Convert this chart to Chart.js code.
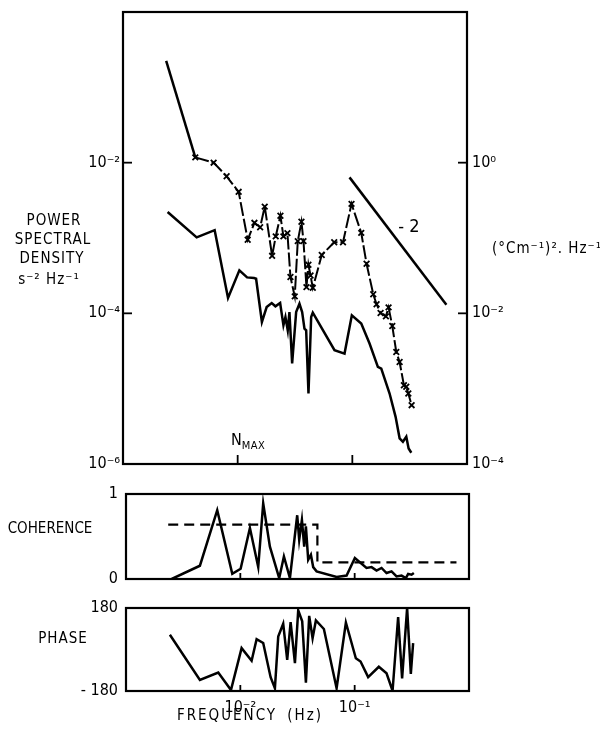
<!DOCTYPE html>
<html><head><meta charset="utf-8">
<script src="https://cdn.jsdelivr.net/npm/chart.js@4"></script>
<style>
body{margin:0;background:#fff;width:600px;height:740px;position:relative;overflow:hidden;font-family:"DejaVu Sans Condensed","DejaVu Sans",sans-serif;color:#000}
canvas{position:absolute;left:0}
.t{position:absolute;white-space:nowrap;font-size:15px;line-height:1}
.c{transform:translate(-50%,-50%)}
.l{transform:translate(0,-50%)}
.sp{letter-spacing:1px}
</style></head><body>
<canvas id="c1" width="600" height="480" style="top:0"></canvas>
<canvas id="c2" width="600" height="110" style="top:480px"></canvas>
<canvas id="c3" width="600" height="150" style="top:590px"></canvas>

<div class="t c sp" style="left:54px;top:220px">POWER</div>
<div class="t c sp" style="left:53px;top:239px">SPECTRAL</div>
<div class="t c sp" style="left:52px;top:258px">DENSITY</div>
<div class="t c sp" style="left:49px;top:279px">s⁻² Hz⁻¹</div>
<div class="t l sp" style="left:492px;top:248px">(°Cm⁻¹)². Hz⁻¹</div>
<div class="t c" style="left:409px;top:226px;font-size:18px">- 2</div>
<div class="t l" style="left:231px;top:440px;font-size:16px">N<span style="font-size:11px;position:relative;top:4px;letter-spacing:0.5px">MAX</span></div>
<div class="t c" style="left:50px;top:528px">COHERENCE</div>
<div class="t c sp" style="left:63px;top:638px">PHASE</div>
<div class="t c" style="left:250px;top:715px;letter-spacing:2px;word-spacing:4px">FREQUENCY (Hz)</div>

<script>
// ---- tick definitions ----
const psdLeftTicks = [1e-2, 1e-4, 1e-6];
const psdLeftLabels = ['10⁻²', '10⁻⁴', '10⁻⁶'];
const psdRightTicks = [1e0, 1e-2, 1e-4];
const psdRightLabels = ['10⁰', '10⁻²', '10⁻⁴'];
const freqTicks = [0.01, 0.1];
const freqLabels = ['10⁻²', '10⁻¹'];
const cohTicks = [1, 0];
const cohLabels = ['1', '0'];
const phaseTicks = [180, -180];
const phaseLabels = ['180', '- 180'];

// ---- temperature-gradient spectrum (x markers), right-axis units ----
const gradFreq = [0.00238,0.00427,0.00617,0.00801,0.0102,0.01223,0.0140,0.0157,0.01722,0.01997,0.02147,0.0236,0.02506,0.02716,0.02886,0.03147,0.03343,0.0360,0.0375,0.0398,0.0414,0.0432,0.0452,0.0541,0.0695,0.0829,0.0984,0.1196,0.1331,0.1522,0.1627,0.1763,0.1962,0.2070,0.2231,0.2417,0.2584,0.2817,0.2955,0.3078,0.3289];
const gradPsd = [22.4,1.175,1.0,0.659,0.41,0.0946,0.159,0.139,0.261,0.058,0.105,0.197,0.105,0.116,0.0303,0.0168,0.0908,0.164,0.0908,0.0223,0.0442,0.0318,0.0218,0.0594,0.0879,0.0879,0.284,0.117,0.0455,0.0179,0.0132,0.0101,0.00912,0.0120,0.00679,0.00307,0.00226,0.00111,0.00106,0.000863,0.000604];

// ---- velocity-shear spectrum (solid line), left-axis units ----
const velFreq = [0.00245,0.00439,0.00630,0.00824,0.01035,0.01208,0.0139,0.01448,0.01627,0.0179,0.01981,0.02135,0.02346,0.02507,0.0261,0.02733,0.02828,0.02986,0.03236,0.03459,0.0365,0.03824,0.03957,0.04145,0.04375,0.0452,0.0699,0.0855,0.099,0.1196,0.1413,0.167,0.1788,0.2113,0.2384,0.2584,0.2761,0.2955,0.3096,0.3269];
const velPsd = [0.00221,0.00102,0.00127,0.000160,0.000372,0.000300,0.000294,0.000288,0.0000768,0.000121,0.000137,0.000124,0.000137,0.0000693,0.0000893,0.0000596,0.000104,0.0000216,0.000104,0.000134,0.000104,0.0000627,0.0000596,0.00000863,0.0000893,0.000102,0.0000324,0.0000292,0.0000942,0.0000731,0.0000397,0.0000195,0.0000185,0.00000863,0.00000423,0.00000219,0.00000197,0.0000023,0.00000161,0.00000141];

// ---- -2 slope reference line ----
const slopeFreq = [0.0945, 0.661];
const slopePsd = [0.00638, 0.00013];

// ---- coherence ----
const cohFreq = [0.00251,0.00443,0.00628,0.0085,0.01006,0.01213,0.01434,0.01585,0.01814,0.02188,0.02405,0.02715,0.03144,0.03273,0.03456,0.03620,0.03745,0.03923,0.04142,0.04338,0.04645,0.0695,0.0850,0.1004,0.127,0.1405,0.1554,0.1718,0.19,0.2102,0.2325,0.257,0.2804,0.2936,0.3144,0.3293];
const cohVal = [0,0.156,0.81,0.06,0.12,0.60,0.14,0.89,0.38,0.01,0.265,0.01,0.75,0.46,0.695,0.38,0.62,0.226,0.285,0.14,0.09,0.023,0.04,0.246,0.13,0.14,0.10,0.13,0.07,0.09,0.03,0.04,0.01,0.06,0.05,0.07];
const sigFreq = [0.00234,0.0472,0.0472,0.777];
const sigVal = [0.64,0.64,0.195,0.195];

// ---- phase ----
const phaseFreq = [0.00242,0.00443,0.00641,0.00828,0.01026,0.01255,0.01388,0.01585,0.0184,0.02006,0.02145,0.02371,0.0257,0.02753,0.03003,0.03208,0.03476,0.03745,0.04002,0.04285,0.04579,0.0538,0.0695,0.0838,0.1024,0.1126,0.1312,0.1627,0.19,0.2145,0.240,0.260,0.2876,0.3099,0.3246];
const phaseVal = [64,-132,-100,-176,6,-49,45,28,-120,-168,56,112,-45,119,-59,170,122,-144,146,49,126,89,-168,117,-38,-52,-120,-75,-103,-179,141,-125,180,-106,28];

const pts = (xs, ys) => xs.map((x, i) => ({x, y: ys[i]}));
const FONT = {family: '"DejaVu Sans Condensed","DejaVu Sans",sans-serif', size: 16};

const frame = {
  id: 'frame',
  afterDraw(chart, args, o) {
    const {ctx, chartArea: a, scales} = chart;
    ctx.save();
    ctx.strokeStyle = '#000';
    ctx.lineWidth = 2.2;
    ctx.strokeRect(a.left, a.top, a.right - a.left, a.bottom - a.top);
    ctx.lineWidth = 1.8;
    const L = o.len || 8;
    (o.xTicks || []).forEach(v => {
      const p = scales.x.getPixelForValue(v);
      ctx.beginPath(); ctx.moveTo(p, a.bottom); ctx.lineTo(p, a.bottom - L); ctx.stroke();
    });
    (o.yTicks || []).forEach(v => {
      const p = scales.y.getPixelForValue(v);
      ctx.beginPath(); ctx.moveTo(a.left, p); ctx.lineTo(a.left + L, p); ctx.stroke();
    });
    (o.y2Ticks || []).forEach(v => {
      const p = scales.y2.getPixelForValue(v);
      ctx.beginPath(); ctx.moveTo(a.right, p); ctx.lineTo(a.right - L, p); ctx.stroke();
    });
    ctx.restore();
  }
};

function noPad(s) { s.paddingTop = 0; s.paddingBottom = 0; s.paddingLeft = 0; s.paddingRight = 0; }

function yAxis(min, max, type, ticks, labels, width, pos, pad) {
  return {
    type, min, max, position: pos || 'left',
    grid: {display: false, drawTicks: false},
    border: {display: false},
    afterBuildTicks: s => { s.ticks = ticks.map(v => ({value: v})); },
    afterFit: s => { s.width = width; noPad(s); },
    ticks: {
      autoSkip: false, color: '#000', font: FONT, padding: pad || 4,
      callback: (v, i) => labels[i]
    }
  };
}
function xAxis(height, showLabels) {
  return {
    type: 'logarithmic', min: 0.001, max: 1,
    grid: {display: false, drawTicks: false},
    border: {display: false},
    afterBuildTicks: s => { s.ticks = freqTicks.map(v => ({value: v})); },
    afterFit: s => { s.height = height; noPad(s); },
    ticks: {
      display: showLabels, autoSkip: false, maxRotation: 0, color: '#000', font: FONT, padding: 7,
      callback: (v, i) => freqLabels[i]
    }
  };
}
const base = {
  responsive: false, animation: false, devicePixelRatio: 1,
  plugins: {legend: {display: false}, tooltip: {enabled: false}},
  elements: {line: {tension: 0, borderColor: '#000', borderWidth: 2.5}, point: {radius: 0}}
};

new Chart(document.getElementById('c1'), {
  type: 'line',
  data: {datasets: [
    {data: pts(velFreq, velPsd), yAxisID: 'y', borderColor: '#000', borderWidth: 2.5, pointRadius: 0},
    {data: pts(gradFreq, gradPsd), yAxisID: 'y2', borderColor: '#000', borderWidth: 2,
     pointStyle: 'crossRot', pointRadius: c => c.dataIndex === 0 ? 0 : 4, pointBorderWidth: 1.8,
     pointBorderColor: '#000',
     segment: {borderDash: c => c.p0DataIndex === 0 ? [] : [14, 3], borderWidth: c => c.p0DataIndex === 0 ? 2.5 : 2}},
    {data: pts(slopeFreq, slopePsd), yAxisID: 'y', borderColor: '#000', borderWidth: 2.5, pointRadius: 0}
  ]},
  options: Object.assign({}, base, {
    layout: {padding: {top: 12, left: 0, right: 0, bottom: 0}},
    scales: {
      x: xAxis(16, false),
      y: yAxis(1e-6, 1, 'logarithmic', psdLeftTicks, psdLeftLabels, 123, 'left', 3),
      y2: yAxis(1e-4, 1e2, 'logarithmic', psdRightTicks, psdRightLabels, 133, 'right', 5)
    },
    plugins: Object.assign({}, base.plugins, {frame: {xTicks: freqTicks, yTicks: [1e-2, 1e-4], y2Ticks: [1e0, 1e-2], len: 9}})
  }),
  plugins: [frame]
});

new Chart(document.getElementById('c2'), {
  type: 'line',
  data: {datasets: [
    {data: pts(cohFreq, cohVal), borderColor: '#000', borderWidth: 2.5, pointRadius: 0},
    {data: pts(sigFreq, sigVal), borderColor: '#000', borderWidth: 2.2, borderDash: [10, 6], pointRadius: 0}
  ]},
  options: Object.assign({}, base, {
    layout: {padding: {top: 14, left: 0, right: 131, bottom: 0}},
    scales: {
      x: xAxis(11, false),
      y: yAxis(0, 1, 'linear', cohTicks, cohLabels, 126, 'left', 8)
    },
    plugins: Object.assign({}, base.plugins, {frame: {xTicks: freqTicks, len: 6}})
  }),
  plugins: [frame]
});

new Chart(document.getElementById('c3'), {
  type: 'line',
  data: {datasets: [
    {data: pts(phaseFreq, phaseVal), borderColor: '#000', borderWidth: 2.5, pointRadius: 0}
  ]},
  options: Object.assign({}, base, {
    layout: {padding: {top: 18, left: 0, right: 131, bottom: 0}},
    scales: {
      x: xAxis(49, true),
      y: yAxis(-180, 180, 'linear', phaseTicks, phaseLabels, 126, 'left', 8)
    },
    plugins: Object.assign({}, base.plugins, {frame: {xTicks: freqTicks, len: 6}})
  }),
  plugins: [frame]
});
</script>
</body></html>
